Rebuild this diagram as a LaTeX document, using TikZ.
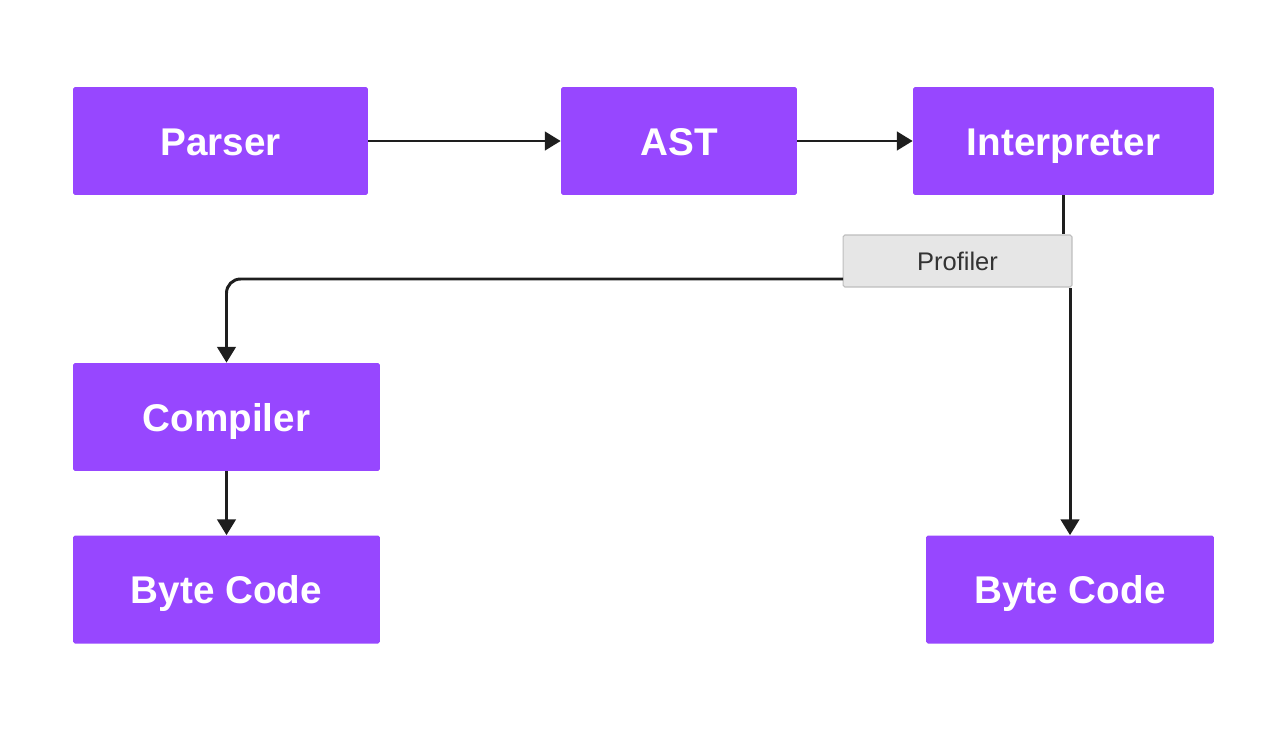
\documentclass[tikz,border=0pt]{standalone}
\usepackage{fontspec}
\setmainfont{Liberation Sans}
\usepackage{tikz}
\usetikzlibrary{arrows.meta}
\definecolor{stagepurple}{HTML}{9747FF}
\definecolor{proffill}{HTML}{E6E6E6}
\definecolor{profline}{HTML}{BDBDBD}
\definecolor{wire}{HTML}{1E1E1E}
\tikzstyle{stagebox}=[rectangle,fill=stagepurple,text=white,rounded corners=1pt,
                      inner sep=0pt,minimum height=2.16cm,
                      text height=16pt,text depth=0pt,
                      font=\fontsize{22}{26}\selectfont\bfseries]
\tikzstyle{profbox}=[rectangle,draw=profline,fill=proffill,line width=0.6pt,
                     rounded corners=1pt,text=black!80,inner sep=0pt,
                     minimum width=4.58cm,minimum height=1.04cm,
                     text height=10.6pt,text depth=0pt,
                     font=\fontsize{14.5}{17}\selectfont]
\tikzstyle{wireline}=[draw=wire,line width=1.7pt,
                      -{Triangle[length=9pt,width=10.5pt]}]

\begin{document}
\begin{tikzpicture}[x=0.02cm,y=-0.02cm]
    \useasboundingbox (0,0) rectangle (1280,730);
    \node (parser) at (220.5, 141) [stagebox,minimum width=5.9cm]{Parser};
    \node (ast)    at (679,   141) [stagebox,minimum width=4.72cm]{AST};
    \node (interp) at (1063.5,141) [stagebox,minimum width=6.02cm]{Interpreter};
    \node (comp)   at (226.5, 417) [stagebox,minimum width=6.14cm]{Compiler};
    \node (bcleft) at (226.5, 589.5) [stagebox,minimum width=6.14cm]{Byte Code};
    \node (bcright) at (1070, 589.5) [stagebox,minimum width=5.76cm]{Byte Code};
    \node (prof)   at (957.5, 261) [profbox]{Profiler};
    \coordinate (profout) at (843, 279);
    \draw[wireline] (parser) -- (ast);
    \draw[wireline] (ast) -- (interp);
    \draw[wireline,-] (interp.south) -- (interp.south |- prof.north);
    \draw[wireline] (prof.south -| bcright.north) -- (bcright.north);
    \draw[wireline,rounded corners=8] (profout) -| (comp.north);
    \draw[wireline] (comp) -- (bcleft);
  \end{tikzpicture}
\end{document}
